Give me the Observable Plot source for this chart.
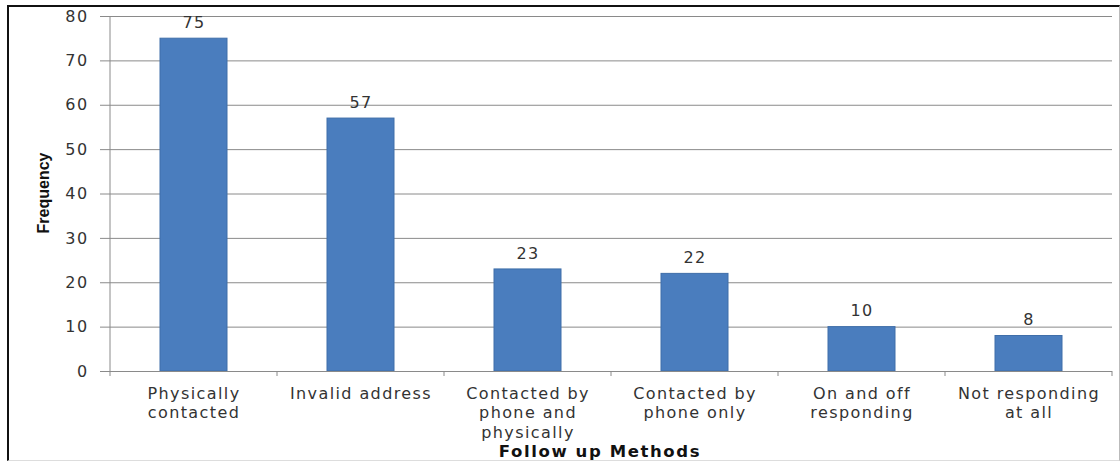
<!DOCTYPE html>
<html>
<head>
<meta charset="utf-8">
<script src="https://cdn.jsdelivr.net/npm/d3@7"></script>
<script src="https://cdn.jsdelivr.net/npm/@observablehq/plot@0.6"></script>
<style>
  html, body { margin: 0; padding: 0; background: #fff; }
  #wrap { position: relative; width: 1120px; height: 462px; overflow: hidden; }
  #border { position: absolute; left: 7px; top: 5px; width: 1110px; height: 453px;
            border-left: 2px solid #111; border-top: 2px solid #111;
            border-right: 1px solid #bbb; border-bottom: 1px solid #ddd; pointer-events: none; }
  #xtitle { position: absolute; left: 0; width: 1200px; top: 442px; text-align: center;
            font: bold 16.5px "DejaVu Sans", sans-serif; letter-spacing: 1.6px; color: #111; }
</style>
</head>
<body>
<div id="wrap">
  <div id="chart"></div>
  <div id="xtitle">Follow up Methods</div>
  <div id="border"></div>
</div>
<script>
const categories = ["Physically\ncontacted", "Invalid address", "Contacted by\nphone and\nphysically", "Contacted by\nphone only", "On and off\nresponding", "Not responding\nat all"];
const frequencies = [75, 57, 23, 22, 10, 8];
const yTicks = [0, 10, 20, 30, 40, 50, 60, 70, 80];
const yLabel = "Frequency";

const data = categories.map((c, i) => ({category: c, value: frequencies[i]}));

const chart = Plot.plot({
  width: 1120,
  height: 462,
  marginLeft: 109,
  marginRight: 8,
  marginTop: 16,
  marginBottom: 91,
  style: {fontFamily: "'DejaVu Sans', sans-serif", fontSize: "16px", letterSpacing: "1.4px", color: "#333", background: "transparent"},
  x: {domain: categories, paddingInner: 0.6, paddingOuter: 0.3, align: 0.5, label: null},
  y: {domain: [0, 80], label: null},
  marks: [
    Plot.gridY(yTicks, {stroke: "#8a8a8a", strokeOpacity: 1, strokeWidth: 1}),
    Plot.barY(data, {x: "category", y: "value", fill: "#4a7dbe", stroke: "#3f6ea9", strokeWidth: 1}),
    Plot.text(data, {x: "category", y: "value", text: d => String(d.value), dy: -16, fontSize: 16, fill: "#333"}),
    Plot.ruleY([0], {stroke: "#8a8a8a"}),
    Plot.axisY({ticks: yTicks, tickSize: 9, tickPadding: 12, label: null, stroke: "#8a8a8a", fill: "#333", fontSize: 16}),
    Plot.axisX({tickSize: 0, tickPadding: 14, label: null, lineHeight: 1.2, fill: "#333", fontSize: 16})
  ]
});

document.getElementById("chart").appendChild(chart);

const svg = d3.select(chart);
const xs = chart.scale("x");
const step = xs.step;
const bw = xs.bandwidth;
// band boundaries for category tick marks (derived from the scale)
const bounds = categories.map(c => xs.apply(c) + bw / 2 - step / 2);
bounds.push(xs.apply(categories[categories.length - 1]) + bw / 2 + step / 2);
const y0 = chart.scale("y").apply(0);
const y80 = chart.scale("y").apply(80);
svg.append("line").attr("x1", bounds[0]).attr("x2", bounds[0]).attr("y1", y80).attr("y2", y0).attr("stroke", "#8a8a8a");
svg.append("g").selectAll("line").data(bounds).join("line")
  .attr("x1", d => d).attr("x2", d => d).attr("y1", y0).attr("y2", y0 + 5).attr("stroke", "#8a8a8a");
svg.append("text")
  .attr("transform", "translate(45,193) rotate(-90)")
  .attr("text-anchor", "middle")
  .attr("dominant-baseline", "middle")
  .style("font", "bold 16px 'Liberation Sans Narrow', 'Liberation Sans', Arial, sans-serif")
  .style("letter-spacing", "0px")
  .attr("fill", "#111")
  .text(yLabel);
</script>
</body>
</html>
